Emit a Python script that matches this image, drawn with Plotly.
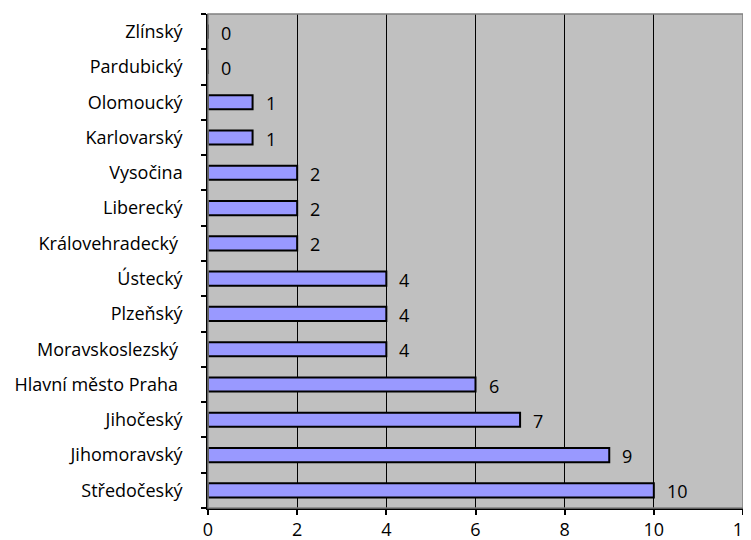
import plotly.graph_objects as go

regions = ["Středočeský", "Jihomoravský", "Jihočeský", "Hlavní město Praha\u00a0",
           "Moravskoslezský\u00a0", "Plzeňský", "Ústecký", "Královehradecký\u00a0",
           "Liberecký", "Vysočina", "Karlovarský", "Olomoucký", "Pardubický", "Zlínský"]
counts = [10, 9, 7, 6, 4, 4, 4, 2, 2, 2, 1, 1, 0, 0]
x_ticks = [0, 2, 4, 6, 8, 10, 12]

FONT = "Open Sans"
FS = 18

fig = go.Figure()
fig.add_trace(go.Bar(
    x=counts, y=regions, orientation="h",
    marker=dict(color="#9999FF", line=dict(color="black", width=2)),
    hoverinfo="skip",
))

for v, r in zip(counts, regions):
    fig.add_annotation(x=v, y=r, text=str(v), showarrow=False,
                       xanchor="left", yanchor="middle", xshift=11, yshift=-1,
                       font=dict(family=FONT, size=FS, color="black"))

# plot-area border (gray)
fig.add_shape(type="rect", xref="x domain", yref="y domain", x0=0, x1=1, y0=0, y1=1,
              line=dict(color="#808080", width=1.5), layer="above")

# page body has an 8px default margin, so the figure is 8px smaller
fig.update_layout(
    width=743, height=532,
    margin=dict(l=200, r=8, t=6, b=32, autoexpand=False),
    paper_bgcolor="white", plot_bgcolor="#C0C0C0",
    bargap=0.6,
    showlegend=False,
    font=dict(family=FONT, size=FS, color="black"),
)
fig.update_xaxes(range=[0, 12], tickvals=x_ticks, showgrid=True, gridcolor="black",
                 gridwidth=1, zeroline=False, showline=True, linecolor="black", linewidth=1.5,
                 ticks="outside", ticklen=5, tickcolor="black", tickwidth=1.5,
                 automargin=False, ticklabeloverflow="allow",
                 tickfont=dict(family=FONT, size=FS))
fig.update_yaxes(categoryorder="array", categoryarray=regions, showgrid=False,
                 showline=True, linecolor="black", linewidth=1.5, range=[-0.5, 13.5],
                 ticks="outside", tickson="boundaries", ticklen=5, tickcolor="black",
                 tickwidth=1.5, ticklabelstandoff=20, automargin=False,
                 tickfont=dict(family=FONT, size=FS))

fig.write_html("out.html")
